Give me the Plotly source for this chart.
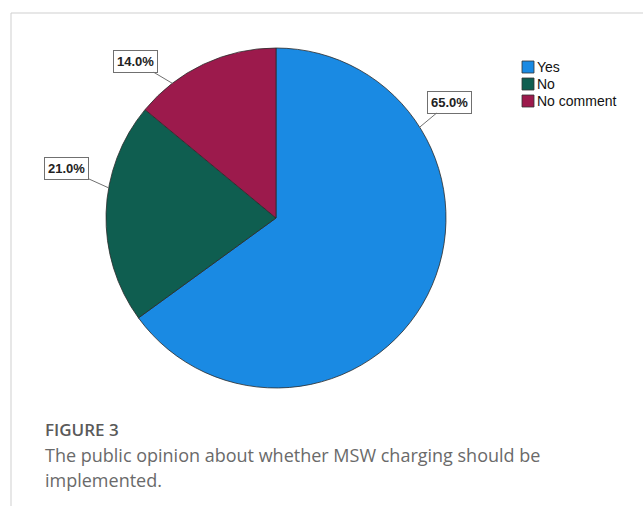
import math
import plotly.graph_objects as go

# ---- data ----
labels = ["Yes", "No", "No comment"]
values = [65.0, 21.0, 14.0]
value_text = ["65.0%", "21.0%", "14.0%"]

# ---- style / layout ----
W, H = 643, 506
colors = ["#1a8ae3", "#0f5e50", "#9c1a4c"]
cx, cy, R = 276, 218, 170            # pie centre & radius in px
label_angles = [57.7, 280.2, 322.4]  # deg clockwise from 12 o'clock, where leader lines touch
label_offsets = [(30, -25), (-42, -19), (-37, -22)]  # px offset of label box from touch point
legend_x, legend_y0, legend_step = 522, 67, 17


def px2paper(px, py):
    return px / W, 1 - py / H


fig = go.Figure()
fig.add_trace(go.Pie(
    labels=labels,
    values=values,
    sort=False,
    direction="clockwise",
    rotation=0,
    textinfo="none",
    hoverinfo="label+percent",
    showlegend=False,
    marker=dict(colors=colors, line=dict(color="#2b2b2b", width=0.8)),
    domain=dict(x=[(cx - R) / W, (cx + R) / W], y=[1 - (cy + R) / H, 1 - (cy - R) / H]),
))

annotations = []
for txt, ang, (ox, oy) in zip(value_text, label_angles, label_offsets):
    a = math.radians(ang)
    px = cx + R * math.sin(a)
    py = cy - R * math.cos(a)
    x, y = px2paper(px, py)
    annotations.append(dict(
        x=x, y=y, xref="paper", yref="paper",
        text="<b>" + txt + "</b>", showarrow=True, arrowhead=0, arrowwidth=1, arrowcolor="#707070",
        ax=ox, ay=oy,
        font=dict(family="Liberation Sans, Arial", size=13, color="#222222"),
        bordercolor="#707070", borderwidth=1, borderpad=3, bgcolor="white",
    ))

shapes = [
    dict(type="line", xref="paper", yref="paper", x0=11 / W, x1=1, y0=1 - 13 / H, y1=1 - 13 / H,
         line=dict(color="#cfcfcf", width=1)),
    dict(type="line", xref="paper", yref="paper", x0=11 / W, x1=11 / W, y0=0, y1=1 - 13 / H,
         line=dict(color="#cfcfcf", width=1)),
]

# manual legend (tight SPSS style)
for i, (lab, col) in enumerate(zip(labels, colors)):
    yc = legend_y0 + i * legend_step
    x0, y0 = px2paper(legend_x, yc - 6)
    x1, y1 = px2paper(legend_x + 12, yc + 6)
    shapes.append(dict(type="rect", xref="paper", yref="paper", x0=x0, x1=x1, y0=y1, y1=y0,
                       fillcolor=col, line=dict(color="#333333", width=0.8)))
    tx, ty = px2paper(legend_x + 13, yc)
    annotations.append(dict(
        x=tx, y=ty, xref="paper", yref="paper", xanchor="left", yanchor="middle",
        text=lab, showarrow=False,
        font=dict(family="Liberation Sans, Arial", size=14, color="#111111"),
    ))

annotations.append(dict(
    x=43 / W, y=1 - 429 / H, xref="paper", yref="paper", xanchor="left", yanchor="middle",
    text="FIGURE 3", showarrow=False,
    font=dict(family="Open Sans", size=17, color="#5a5a5a", weight=600),
))
caption_lines = ["The public opinion about whether MSW charging should be", "implemented."]
for i, line in enumerate(caption_lines):
    annotations.append(dict(
        x=43 / W, y=1 - (455 + 25 * i) / H, xref="paper", yref="paper", xanchor="left", yanchor="middle",
        text=line, showarrow=False,
        font=dict(family="Open Sans", size=18, color="#6a6a6a"),
    ))

fig.update_layout(
    width=W, height=H,
    margin=dict(l=0, r=0, t=0, b=0),
    paper_bgcolor="white",
    plot_bgcolor="white",
    annotations=annotations,
    shapes=shapes,
)

fig.write_html("out.html")
